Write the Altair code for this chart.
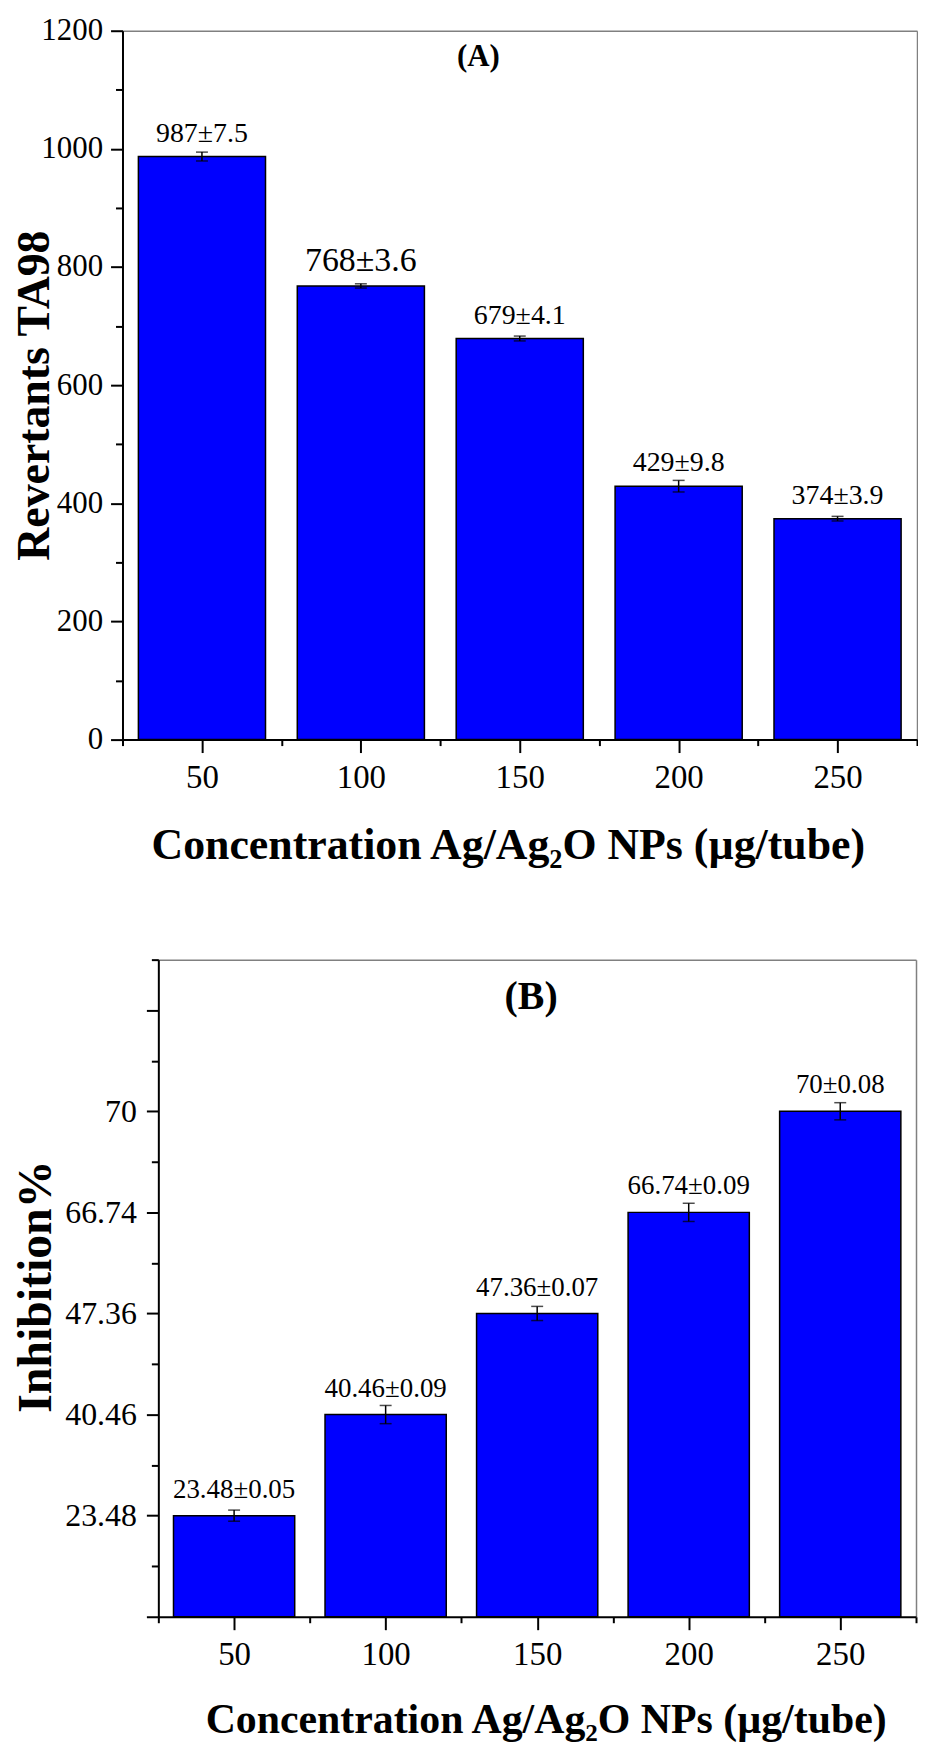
# Gráfico de barras com barras de erro: (A) revertentes TA98 e (B) inibição %
import altair as alt
import pandas as pd

# Dados
concentracao = [50, 100, 150, 200, 250]
revertantes = [987, 768, 679, 429, 374]
revertantes_dp = [7.5, 3.6, 4.1, 9.8, 3.9]
inibicao = [23.48, 40.46, 47.36, 66.74, 70]
inibicao_dp = [0.05, 0.09, 0.07, 0.09, 0.08]
# (B): meia altura das barras de erro como desenhadas, em passos do eixo y
inibicao_barra_erro = [0.11, 0.18, 0.14, 0.18, 0.17]

# Marcas dos eixos (principais e secundárias)
x_principal = [50, 100, 150, 200, 250]
x_secundario = [25, 75, 125, 175, 225, 275]
ya_principal = [0, 200, 400, 600, 800, 1000, 1200]
ya_secundario = [100, 300, 500, 700, 900, 1100]
yb_principal = [0, 2, 4, 6, 8, 10, 12]
yb_secundario = [1, 3, 5, 7, 9, 11, 13]
yb_rotulos = [''] + [f'{v:g}' for v in inibicao] + ['']

FONTE = 'Liberation Serif'
AZUL = '#0000FF'
CINZA = '#808080'
TITULO_X = 'Concentration Ag/Ag₂O NPs (µg/tube)'


# Eixo x principal (com rótulos e título)
def eixo_x(titulo_fs, titulo_x, titulo_y):
    return alt.Axis(values=x_principal, format='d', labelAngle=0, labelFlush=False,
                    labelFontSize=33, labelPadding=9, tickSize=13, zindex=1,
                    title=TITULO_X, titleFontSize=titulo_fs, titleFontWeight='bold',
                    titleBaseline='alphabetic', titleX=titulo_x, titleY=titulo_y)


# Eixo y principal (com rótulos e título girado)
def eixo_y(valores, titulo, titulo_fs, titulo_x, titulo_y, deslocamento, rotulo_fs, rotulo_pad, expr=None):
    opcoes = dict(values=valores, labelFontSize=rotulo_fs, labelPadding=rotulo_pad, tickSize=12,
                  zindex=1, offset=deslocamento, title=titulo, titleFontSize=titulo_fs,
                  titleFontWeight='bold', titleAngle=270, titleBaseline='alphabetic',
                  titleAlign='center', titleX=titulo_x, titleY=titulo_y)
    if expr:
        opcoes['labelExpr'] = expr
    else:
        opcoes['format'] = 'd'
    return alt.Axis(**opcoes)


# Traços menores (sem rótulos nem linha)
def eixo_menor(valores, orient, tamanho, deslocamento=0):
    return alt.Axis(values=valores, orient=orient, labels=False, domain=False,
                    tickSize=tamanho, offset=deslocamento, title='')


# Moldura cinza do topo e da direita
moldura_x = alt.Axis(orient='top', domainColor=CINZA, domainWidth=1.5, ticks=False, labels=False, title='')
moldura_y = alt.Axis(orient='right', domainColor=CINZA, domainWidth=1.5, ticks=False, labels=False, title='')


# Um painel: barras, tampas e hastes de erro, rótulos de valor e letra do painel
def painel(base, escala_x, escala_y, eixo_y_p, eixo_y_sec, eixo_x_p, eixo_x_sec,
           tam_rotulo, dy_rotulo, largura, altura, letra, letra_x, letra_y, letra_fs):

    barras = base.mark_bar(fill=AZUL, stroke='black', strokeWidth=1.5).encode(
        x=alt.X('x0:Q', scale=escala_x, axis=eixo_x_p),
        x2='x1:Q',
        y=alt.Y('y:Q', scale=escala_y, axis=eixo_y_p),
        y2=alt.datum(0))

    rotulos = base.mark_text(font=FONTE, baseline='alphabetic', dy=dy_rotulo, color='black').encode(
        x=alt.X('conc:Q', scale=escala_x),
        y=alt.Y('y:Q', scale=escala_y),
        text='rotulo:N',
        size=tam_rotulo)

    # Letra do painel, "(A)" ou "(B)"
    marca = alt.Chart(pd.DataFrame({'letra': [letra]})).mark_text(
        font=FONTE, fontSize=letra_fs, fontWeight='bold', baseline='alphabetic',
        align='center', color='black').encode(
        x=alt.X(datum=letra_x, scale=escala_x),
        y=alt.Y(datum=letra_y, scale=escala_y),
        text='letra:N')

    principal = alt.layer(barras, rotulos, marca)

    # Hastes de erro carregam os traços menores
    hastes = base.mark_rule(color='black', strokeWidth=1.5).encode(
        x=alt.X('conc:Q', scale=escala_x, axis=eixo_x_sec),
        y=alt.Y('lo:Q', scale=escala_y, axis=eixo_y_sec),
        y2='hi:Q')

    # Tampas das barras de erro; a superior carrega a moldura
    tampa_sup = base.mark_tick(orient='horizontal', size=12, thickness=1.5, color='black').encode(
        x=alt.X('conc:Q', scale=escala_x, axis=moldura_x),
        y=alt.Y('hi:Q', scale=escala_y, axis=moldura_y))
    tampa_inf = base.mark_tick(orient='horizontal', size=12, thickness=1.5, color='black').encode(
        x=alt.X('conc:Q', scale=escala_x, axis=None),
        y=alt.Y('lo:Q', scale=escala_y, axis=None))

    return (alt.layer(principal, hastes, tampa_sup, tampa_inf)
            .resolve_scale(x='independent', y='independent')
            .properties(width=largura, height=altura))


# Painel (A)
df_a = pd.DataFrame({'conc': concentracao, 'valor': revertantes, 'dp': revertantes_dp})
base_a = alt.Chart(df_a).transform_calculate(
    y='datum.valor',
    lo='datum.valor - datum.dp',
    hi='datum.valor + datum.dp',
    x0='datum.conc - 20',
    x1='datum.conc + 20',
    rotulo="datum.valor + '±' + datum.dp")

painel_a = painel(
    base_a,
    alt.Scale(domain=[25, 275], range=[0, 798], nice=False, zero=False),
    alt.Scale(domain=[0, 1200], nice=False),
    eixo_y(ya_principal, 'Revertants TA98', 46, -74, 366, 0, 31, 8),
    eixo_menor(ya_secundario, 'left', 7),
    eixo_x(44, 387, 119),
    eixo_menor(x_secundario, 'bottom', 6),
    alt.condition('datum.conc == 100', alt.value(34), alt.value(28)), -15,
    798, 712,
    '(A)', 137, 1140, 31)

# Painel (B): cada barra ocupa dois passos do eixo y, rotulado com os valores
df_b = pd.DataFrame({'conc': concentracao, 'valor': inibicao, 'dp': inibicao_dp,
                     'erro': inibicao_barra_erro})
base_b = alt.Chart(df_b).transform_window(
    posto='row_number()', sort=[alt.SortField('conc')]
).transform_calculate(
    y='2 * datum.posto',
    lo='2 * datum.posto - datum.erro',
    hi='2 * datum.posto + datum.erro',
    x0='datum.conc - 20',
    x1='datum.conc + 20',
    rotulo="datum.valor + '±' + datum.dp")

expr_b = '[' + ', '.join(f"'{r}'" for r in yb_rotulos) + '][datum.value / 2]'

# O eixo y de (B) fica 36 px mais à direita que o de (A)
painel_b = painel(
    base_b,
    alt.Scale(domain=[25, 275], range=[36, 797], nice=False, zero=False),
    alt.Scale(domain=[0, 13], nice=False),
    eixo_y(yb_principal, 'Inhibition%', 48, -108, 328, -36, 32, 10, expr_b),
    eixo_menor(yb_secundario, 'left', 7, -36),
    eixo_x(42, 425, 116),
    eixo_menor(x_secundario, 'bottom', 6),
    alt.value(27), -18,
    797, 660,
    '(B)', 148, 12.03, 40)

chart = (alt.vconcat(painel_a, painel_b, spacing=92)
         .properties(padding={'left': 4, 'top': 3, 'right': 0, 'bottom': 2})
         .configure_axis(labelFont=FONTE, titleFont=FONTE, labelColor='black', titleColor='black',
                         domainColor='black', tickColor='black', domainWidth=2, tickWidth=2, grid=False)
         .configure_view(strokeWidth=0))

chart.save("out.html", embed_options={"renderer": "svg", "actions": False})
